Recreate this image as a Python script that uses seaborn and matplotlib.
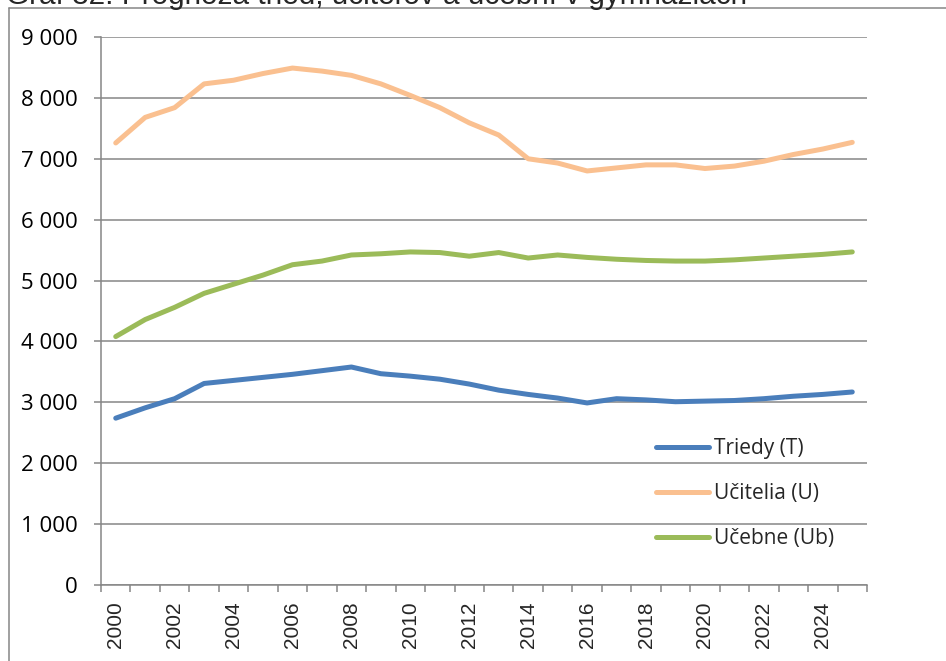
import matplotlib

matplotlib.use("Agg")
import matplotlib.pyplot as plt
import matplotlib.ticker as mticker
import pandas as pd
import seaborn as sns
from matplotlib.lines import Line2D

years = list(range(2000, 2026))

triedy = [2740, 2910, 3060, 3310, 3360, 3410, 3460, 3520, 3580, 3470,
          3430, 3380, 3300, 3200, 3130, 3070, 2990, 3060, 3040, 3010,
          3020, 3030, 3060, 3100, 3130, 3170]
ucitelia = [7260, 7680, 7840, 8230, 8290, 8400, 8490, 8440, 8370, 8230,
            8040, 7840, 7590, 7390, 7000, 6930, 6800, 6850, 6900, 6900,
            6840, 6880, 6960, 7070, 7160, 7270]
ucebne = [4080, 4360, 4560, 4790, 4940, 5090, 5260, 5320, 5420, 5440,
          5470, 5460, 5400, 5460, 5370, 5420, 5380, 5350, 5330, 5320,
          5320, 5340, 5370, 5400, 5430, 5470]

series_names = ["Triedy (T)", "Učitelia (U)", "Učebne (Ub)"]
colors = ["#4A7EBB", "#FAC090", "#9BBB59"]
title = "Graf 32: Prognóza tried, učiteľov a učební v gymnáziách"

df = pd.DataFrame({"rok": years, series_names[0]: triedy,
                   series_names[1]: ucitelia, series_names[2]: ucebne})
long_df = df.melt(id_vars="rok", var_name="rad", value_name="pocet")

sns.set_style("white")
plt.rcParams["font.family"] = ["Open Sans", "DejaVu Sans"]

grid_c = "#868686"
fig = plt.figure(figsize=(9.46, 6.61), dpi=100)
ax = fig.add_axes([101 / 946, 76 / 661, 766 / 946, 548 / 661])

sns.lineplot(data=long_df, x="rok", y="pocet", hue="rad", hue_order=series_names,
             palette=colors, linewidth=3.6, legend=False, ax=ax,
             solid_capstyle="round")

ax.set_xlim(years[0] - 0.5, years[-1] + 0.5)
ax.set_ylim(0, 9000)
ax.set_xlabel("")
ax.set_ylabel("")

# y axis
ax.yaxis.set_major_locator(mticker.MultipleLocator(1000))
ax.yaxis.set_major_formatter(
    mticker.FuncFormatter(lambda v, _: f"{int(v):,}".replace(",", " ")))
ax.grid(axis="y", color=grid_c, linewidth=1.1)
ax.grid(axis="x", visible=False)
ax.tick_params(axis="y", which="major", left=True, length=5, width=1.1,
               color=grid_c, pad=12, labelsize=16, labelcolor="black")

# x axis: tick marks at category boundaries, labels every other year
bounds = [y - 0.5 for y in years] + [years[-1] + 0.5]
ax.set_xticks(bounds)
ax.set_xticklabels([])
ax.tick_params(axis="x", which="major", bottom=True, length=5, width=1.1,
               color=grid_c)
ax.set_xticks(years[::2], minor=True)
ax.set_xticklabels([str(y) for y in years[::2]], minor=True, rotation=90,
                   family="Liberation Sans", fontsize=15)
ax.tick_params(axis="x", which="minor", length=0, pad=12)

for side in ["top", "right"]:
    ax.spines[side].set_visible(False)
for side in ["left", "bottom"]:
    ax.spines[side].set_color(grid_c)
    ax.spines[side].set_linewidth(1.1)

handles = [Line2D([], [], color=c, linewidth=3.6, solid_capstyle="round")
           for c in colors]
fig.legend(handles, series_names, loc="upper left",
           bbox_to_anchor=(656 / 946, 1 - 438 / 661), frameon=False,
           fontsize=15, handlelength=2.55, handletextpad=0.25,
           labelspacing=1.15, borderpad=0, borderaxespad=0)

# chart frame (partly cropped) and title, cut at the top as in the source
fig.add_artist(Line2D([8.5 / 946, 8.5 / 946], [0, 1 - 8 / 661],
                      color=grid_c, linewidth=1.1, transform=fig.transFigure))
fig.add_artist(Line2D([8.5 / 946, 1], [1 - 8 / 661, 1 - 8 / 661],
                      color=grid_c, linewidth=1.1, transform=fig.transFigure))
fig.text(6 / 946, 1 - 4 / 661, title, family="Liberation Sans", fontsize=21.4,
         ha="left", va="baseline")

fig.savefig("out.png", dpi=100)
